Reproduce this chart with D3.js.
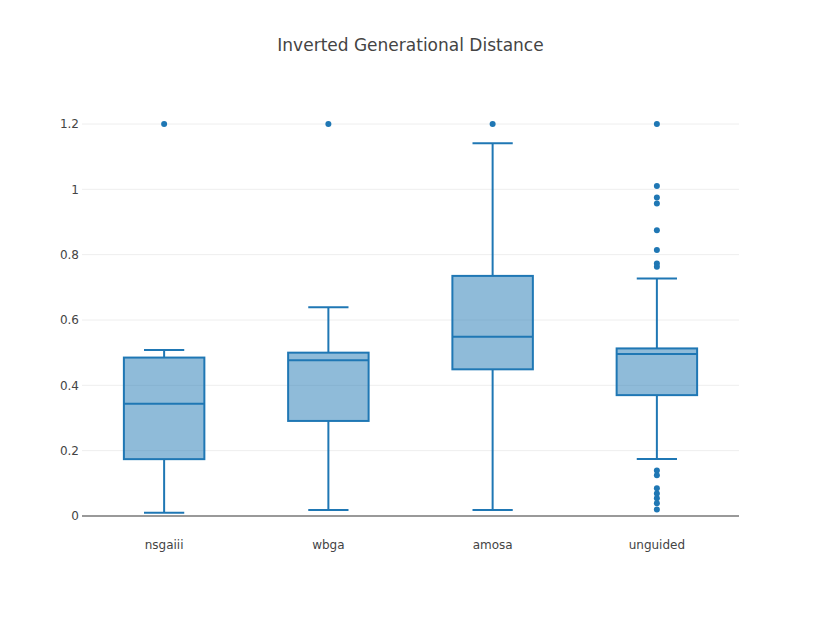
<!DOCTYPE html>
<html>
<head>
<meta charset="utf-8">
<script src="https://cdn.jsdelivr.net/npm/d3@7"></script>
<style>
  body { margin: 0; background: #fff; }
  text { font-family: "DejaVu Sans", sans-serif; fill: #444; }
</style>
</head>
<body>
<div id="chart"></div>
<script>
// box statistics
const categories = ["nsgaiii", "wbga", "amosa", "unguided"];
const lowerWhisker = [0.010, 0.018, 0.018, 0.1745];
const q1 = [0.174, 0.291, 0.449, 0.370];
const median = [0.344, 0.477, 0.549, 0.496];
const q3 = [0.485, 0.500, 0.735, 0.513];
const upperWhisker = [0.508, 0.639, 1.141, 0.727];
const outliers = [
  [1.2],
  [1.2],
  [1.2],
  [1.2, 1.010, 0.975, 0.957, 0.875, 0.814, 0.773, 0.763,
   0.139, 0.125, 0.085, 0.069, 0.054, 0.039, 0.020]
];
const yTicks = [0, 0.2, 0.4, 0.6, 0.8, 1, 1.2];

const dim = { width: 822, height: 617, left: 82, right: 83, top: 124, bottom: 101 };
const color = "#1f77b4";
const font = "'DejaVu Sans', sans-serif";

const svg = d3.select("#chart")
  .append("svg")
  .attr("width", dim.width)
  .attr("height", dim.height);

const x = d3.scaleBand()
  .domain(categories)
  .range([dim.left, dim.width - dim.right]);

const y = d3.scaleLinear()
  .domain([0, 1.2])
  .range([dim.height - dim.bottom, dim.top]);

// grid lines
svg.append("g")
  .selectAll("line")
  .data(yTicks.slice(1))
  .enter()
  .append("line")
  .attr("x1", dim.left)
  .attr("x2", dim.width - dim.right)
  .attr("y1", d => y(d))
  .attr("y2", d => y(d))
  .style("stroke", "#eee")
  .style("stroke-width", 1);

// zero line
svg.append("line")
  .attr("x1", dim.left)
  .attr("x2", dim.width - dim.right)
  .attr("y1", y(0))
  .attr("y2", y(0))
  .style("stroke", "#999")
  .style("stroke-width", 2);

// y axis labels
const yAxis = svg.append("g")
  .attr("transform", "translate(" + dim.left + ",0)")
  .call(d3.axisLeft(y).tickValues(yTicks).tickSize(0).tickPadding(3).tickFormat(d3.format("~g")));
yAxis.select(".domain").remove();
yAxis.selectAll("text").style("font-size", "12px").style("fill", "#444")
  .style("font-family", font);

// x axis labels
const xAxis = svg.append("g")
  .attr("transform", "translate(0," + y(0) + ")")
  .call(d3.axisBottom(x).tickSize(0).tickPadding(24));
xAxis.select(".domain").remove();
xAxis.selectAll("text").style("font-size", "12px").style("fill", "#444")
  .style("font-family", font);

const boxW = x.bandwidth() * 0.49;
const capW = boxW / 2;

const groups = svg.selectAll(".box")
  .data(categories)
  .enter()
  .append("g")
  .attr("class", "box");

// whiskers
groups.append("line")
  .attr("x1", d => x(d) + x.bandwidth() / 2)
  .attr("x2", d => x(d) + x.bandwidth() / 2)
  .attr("y1", (d, i) => y(lowerWhisker[i]))
  .attr("y2", (d, i) => y(q1[i]))
  .style("stroke", color).style("stroke-width", 2);
groups.append("line")
  .attr("x1", d => x(d) + x.bandwidth() / 2)
  .attr("x2", d => x(d) + x.bandwidth() / 2)
  .attr("y1", (d, i) => y(q3[i]))
  .attr("y2", (d, i) => y(upperWhisker[i]))
  .style("stroke", color).style("stroke-width", 2);
[lowerWhisker, upperWhisker].forEach(function (arr) {
  groups.append("line")
    .attr("x1", d => x(d) + x.bandwidth() / 2 - capW / 2)
    .attr("x2", d => x(d) + x.bandwidth() / 2 + capW / 2)
    .attr("y1", (d, i) => y(arr[i]))
    .attr("y2", (d, i) => y(arr[i]))
    .style("stroke", color).style("stroke-width", 2);
});

// boxes
groups.append("rect")
  .attr("x", d => x(d) + x.bandwidth() / 2 - boxW / 2)
  .attr("width", boxW)
  .attr("y", (d, i) => y(q3[i]))
  .attr("height", (d, i) => y(q1[i]) - y(q3[i]))
  .style("fill", color)
  .style("fill-opacity", 0.5)
  .style("stroke", color)
  .style("stroke-width", 2);

// medians
groups.append("line")
  .attr("x1", d => x(d) + x.bandwidth() / 2 - boxW / 2)
  .attr("x2", d => x(d) + x.bandwidth() / 2 + boxW / 2)
  .attr("y1", (d, i) => y(median[i]))
  .attr("y2", (d, i) => y(median[i]))
  .style("stroke", color).style("stroke-width", 2);

// outliers
groups.each(function (d, i) {
  d3.select(this).selectAll("circle")
    .data(outliers[i])
    .enter()
    .append("circle")
    .attr("cx", x(d) + x.bandwidth() / 2)
    .attr("cy", v => y(v))
    .attr("r", 3)
    .style("fill", color);
});

// title
svg.append("text")
  .attr("x", (dim.left + dim.width - dim.right) / 2)
  .attr("y", 51)
  .attr("text-anchor", "middle")
  .style("font-size", "17px")
  .style("fill", "#444")
  .style("font-family", font)
  .text("Inverted Generational Distance");
</script>
</body>
</html>
